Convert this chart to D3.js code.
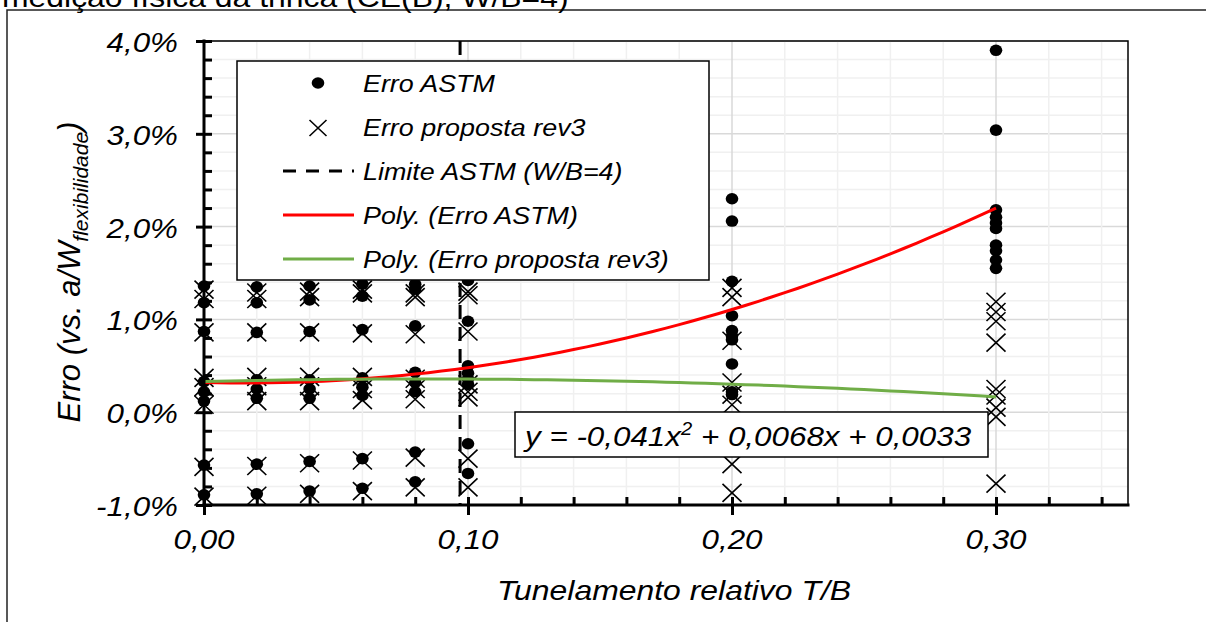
<!DOCTYPE html>
<html>
<head>
<meta charset="utf-8">
<script src="https://cdn.jsdelivr.net/npm/d3@7"></script>
<style>
  body { margin: 0; background: #fff; }
  svg { display: block; }
  text { font-family: "Liberation Sans", Arial, sans-serif; fill: #000; }
</style>
</head>
<body>
<svg id="chart" width="1206" height="622"></svg>
<script>
// Relative tunnelling T/B of each specimen group
const tunelamento = [0, 0.02, 0.04, 0.06, 0.08, 0.10, 0.20, 0.30];

// Error (%) of the ASTM crack-length estimate, one list per T/B group
const erroAstm = [
  [1.36, 1.18, 0.87, 0.33, 0.22, 0.12, -0.57, -0.89],
  [1.35, 1.18, 0.86, 0.35, 0.25, 0.15, -0.56, -0.88],
  [1.36, 1.21, 0.87, 0.35, 0.25, 0.15, -0.53, -0.85],
  [1.38, 1.25, 0.89, 0.37, 0.27, 0.18, -0.50, -0.82],
  [1.38, 1.33, 0.93, 0.43, 0.32, 0.22, -0.43, -0.75],
  [1.42, 0.98, 0.50, 0.42, 0.36, 0.30, -0.34, -0.66],
  [2.30, 2.06, 1.41, 1.04, 0.88, 0.82, 0.78, 0.52, 0.22, 0.19],
  [3.90, 3.04, 2.18, 2.10, 2.04, 1.98, 1.80, 1.74, 1.64, 1.55]
];

// Error (%) of the proposed rev3 estimate, one list per T/B group
const erroRev3 = [
  [1.32, 1.22, 0.86, 0.37, 0.27, 0.08, -0.59, -0.91],
  [1.29, 1.22, 0.86, 0.38, 0.28, 0.12, -0.58, -0.90],
  [1.30, 1.24, 0.86, 0.38, 0.28, 0.12, -0.55, -0.88],
  [1.32, 1.28, 0.85, 0.38, 0.25, 0.13, -0.52, -0.85],
  [1.28, 1.24, 0.84, 0.36, 0.25, 0.14, -0.49, -0.81],
  [1.30, 1.26, 0.87, 0.30, 0.22, 0.16, -0.50, -0.81],
  [1.34, 1.24, 0.77, 0.32, 0.19, 0.08, -0.56, -0.87],
  [1.19, 1.08, 0.98, 0.75, 0.25, 0.18, 0.05, -0.05, -0.77]
];

// ASTM validity limit (W/B = 4) expressed as T/B
const limiteAstm = 0.097;

// Second-order trend lines: y = a*x^2 + b*x + c (y as a fraction)
const polyAstm = [0.2333, -0.00733, 0.0032];
const polyRev3 = [-0.041, 0.0068, 0.0033];

const xTickValues = [0, 0.1, 0.2, 0.3];
const yTickValues = [-1, 0, 1, 2, 3, 4];

const legendLabels = [
  "Erro ASTM",
  "Erro proposta rev3",
  "Limite ASTM (W/B=4)",
  "Poly. (Erro ASTM)",
  "Poly. (Erro proposta rev3)"
];

const tituloGrafico = "medição física da trinca (CE(B), W/B=4)";
const tituloX = "Tunelamento relativo T/B";
const equacaoRev3 = ["y = -0,041x", "2", " + 0,0068x + 0,0033"];

// ---------------------------------------------------------------
const SX = 1.12;               // horizontal stretch of the lettering
const svg = d3.select("#chart");
const locale = d3.formatLocale({ decimal: ",", thousands: ".", grouping: [3], currency: ["", ""], minus: "-" });
const fmtX = locale.format(".2f");
const fmtY = v => locale.format(".1f")(v) + "%";

const x = d3.scaleLinear().domain([0, 0.35]).range([204, 1128]);
const y = d3.scaleLinear().domain([-1, 4]).range([505, 41]);

function stretchedText(parent, px, py, str, size, anchor, italic) {
  return parent.append("text")
    .attr("transform", `translate(${px},${py}) scale(${SX},1)`)
    .attr("text-anchor", anchor || "start")
    .style("font-size", size + "px")
    .style("font-style", italic ? "italic" : "normal")
    .text(str);
}

// outer frame and title (its upper part runs past the top edge)
svg.append("path").attr("d", "M7,622 V10 H1206")
  .attr("fill", "none").attr("stroke", "#222").attr("stroke-width", 1.5);
stretchedText(svg, 2, 7, tituloGrafico, 28.5, "start", false);

// gridlines
const grid = svg.append("g");
const xMinor = d3.range(0, 0.35 + 1e-9, 0.02);
const yMinor = d3.range(-1, 4 + 1e-9, 0.2);
grid.selectAll(".hm").data(yMinor).join("line")
  .attr("x1", x(0)).attr("x2", x(0.35))
  .attr("y1", d => y(d)).attr("y2", d => y(d))
  .attr("stroke", d => Math.abs(d - Math.round(d)) < 1e-6 ? "#d9d9d9" : "#f0f0f0")
  .attr("stroke-width", 1.5);
grid.selectAll(".vm").data(xMinor).join("line")
  .attr("y1", y(-1)).attr("y2", y(4))
  .attr("x1", d => x(d)).attr("x2", d => x(d))
  .attr("stroke", d => Math.abs(d * 10 - Math.round(d * 10)) < 1e-6 ? "#d9d9d9" : "#f0f0f0")
  .attr("stroke-width", 1.5);

// plot frame (top and right)
svg.append("path").attr("d", `M${x(0)},${y(4)} H${x(0.35)} V${y(-1)}`)
  .attr("fill", "none").attr("stroke", "#000").attr("stroke-width", 1.5);

// ASTM limit
svg.append("line")
  .attr("x1", x(limiteAstm)).attr("x2", x(limiteAstm))
  .attr("y1", y(4)).attr("y2", y(-1))
  .attr("stroke", "#000").attr("stroke-width", 3).attr("stroke-dasharray", "14,8");

// scatter points
const ptsAstm = tunelamento.flatMap((t, i) => erroAstm[i].map(v => ({ t, v })));
const ptsRev3 = tunelamento.flatMap((t, i) => erroRev3[i].map(v => ({ t, v })));

svg.append("g").selectAll("ellipse").data(ptsAstm).join("ellipse")
  .attr("cx", d => x(d.t)).attr("cy", d => y(d.v))
  .attr("rx", 6.3).attr("ry", 5.8).attr("fill", "#000");

const crossPath = "M-9.5,-9 L9.5,9 M-9.5,9 L9.5,-9";
svg.append("g").selectAll("path").data(ptsRev3).join("path")
  .attr("transform", d => `translate(${x(d.t)},${y(d.v)})`)
  .attr("d", crossPath).attr("stroke", "#000").attr("stroke-width", 1.6).attr("fill", "none");

// trend lines
const poly = (c, t) => (c[0] * t * t + c[1] * t + c[2]) * 100;
const tSamples = d3.range(0, 0.3 + 1e-9, 0.005);
const lineGen = c => d3.line().x(t => x(t)).y(t => y(poly(c, t)))(tSamples);
svg.append("path").attr("d", lineGen(polyAstm))
  .attr("fill", "none").attr("stroke", "#ff0000").attr("stroke-width", 3);
svg.append("path").attr("d", lineGen(polyRev3))
  .attr("fill", "none").attr("stroke", "#70ad47").attr("stroke-width", 3);

// axes
const yAxisOut = d3.axisLeft(y).tickValues(yTickValues).tickSize(8).tickFormat("");
const yAxisIn = d3.axisRight(y).tickValues(yMinor).tickSize(8).tickFormat("");
const xAxisOut = d3.axisBottom(x).tickValues(xTickValues).tickSize(10).tickFormat("");
const xAxisIn = d3.axisTop(x).tickValues(xMinor).tickSize(8).tickFormat("");
[[yAxisOut, `translate(${x(0)},0)`], [yAxisIn, `translate(${x(0)},0)`],
 [xAxisOut, `translate(0,${y(-1)})`], [xAxisIn, `translate(0,${y(-1)})`]].forEach(([ax, tr]) => {
  const g = svg.append("g").attr("transform", tr).call(ax);
  g.select(".domain").remove();
  g.selectAll(".tick line").attr("stroke", "#000").attr("stroke-width", 3);
});
svg.append("line").attr("x1", x(0)).attr("x2", x(0)).attr("y1", y(4) - 1.5).attr("y2", y(-1) + 1.5)
  .attr("stroke", "#000").attr("stroke-width", 3);
svg.append("line").attr("x1", x(0) - 1.5).attr("x2", x(0.35) + 1.5).attr("y1", y(-1)).attr("y2", y(-1))
  .attr("stroke", "#000").attr("stroke-width", 3);

// tick labels
xTickValues.forEach(v => stretchedText(svg, x(v), 549, fmtX(v), 28, "middle", true));
yTickValues.forEach(v => stretchedText(svg, 178, y(v) + 11, fmtY(v), 28, "end", true));

// axis titles
stretchedText(svg, 674, 600, tituloX, 28.5, "middle", true);
const yt = svg.append("text")
  .attr("transform", "translate(80,272) rotate(-90)")
  .attr("text-anchor", "middle")
  .style("font-size", "31px").style("font-style", "italic");
yt.append("tspan").text("Erro (vs. a/W");
yt.append("tspan").attr("dy", 8).style("font-size", "21px").text("flexibilidade");
yt.append("tspan").attr("dy", -8).text(")");

// legend
const lg = svg.append("g");
lg.append("rect").attr("x", 237).attr("y", 61).attr("width", 472).attr("height", 219)
  .attr("fill", "#fff").attr("stroke", "#000").attr("stroke-width", 1.5);
const rowY = i => 92 + i * 44;
legendLabels.forEach((lab, i) => stretchedText(lg, 363, rowY(i), lab, 24, "start", true));
lg.append("ellipse").attr("cx", 318).attr("cy", rowY(0) - 9).attr("rx", 6.3).attr("ry", 5.8).attr("fill", "#000");
lg.append("path").attr("transform", `translate(318,${rowY(1) - 8})`)
  .attr("d", "M-8.5,-8 L8.5,8 M-8.5,8 L8.5,-8").attr("stroke", "#000").attr("stroke-width", 1.6);
lg.append("line").attr("x1", 283).attr("x2", 354).attr("y1", rowY(2) - 9).attr("y2", rowY(2) - 9)
  .attr("stroke", "#000").attr("stroke-width", 3).attr("stroke-dasharray", "13,10");
lg.append("line").attr("x1", 283).attr("x2", 354).attr("y1", rowY(3) - 9).attr("y2", rowY(3) - 9)
  .attr("stroke", "#ff0000").attr("stroke-width", 3);
lg.append("line").attr("x1", 283).attr("x2", 354).attr("y1", rowY(4) - 9).attr("y2", rowY(4) - 9)
  .attr("stroke", "#70ad47").attr("stroke-width", 3);

// trend-line equation label
const eq = svg.append("g");
eq.append("rect").attr("x", 515).attr("y", 412).attr("width", 473).attr("height", 45)
  .attr("fill", "#fff").attr("stroke", "#000").attr("stroke-width", 1.5);
const et = eq.append("text")
  .attr("transform", `translate(525,446) scale(${SX},1)`)
  .style("font-size", "28px").style("font-style", "italic");
et.append("tspan").text(equacaoRev3[0]);
et.append("tspan").attr("dy", -11).style("font-size", "18px").text(equacaoRev3[1]);
et.append("tspan").attr("dy", 11).text(equacaoRev3[2]);
</script>
</body>
</html>
